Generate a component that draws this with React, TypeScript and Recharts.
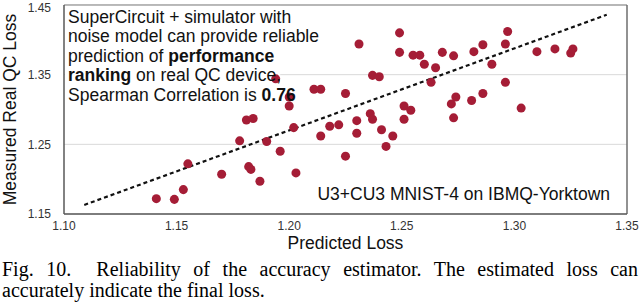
import { ScatterChart, Scatter, XAxis, YAxis, ZAxis, CartesianGrid, ReferenceLine, ReferenceArea } from 'recharts';

// predicted vs measured loss for each sampled sub-network
const predictedLoss = [
  1.231, 1.249, 1.249, 1.255, 1.258, 1.260, 1.265, 1.268, 1.273, 1.282, 1.286, 1.290, 1.296, 1.297, 1.310, 1.318,
  1.325, 1.326, 1.237, 1.240, 1.263, 1.296, 1.214, 1.211, 1.225, 1.274, 1.272, 1.281, 1.286, 1.303, 1.251, 1.254,
  1.236, 1.237, 1.230, 1.251, 1.273, 1.218, 1.222, 1.241, 1.214, 1.230, 1.246, 1.243, 1.225, 1.194, 1.200, 1.200,
  1.181, 1.184, 1.202, 1.178, 1.190, 1.196, 1.155, 1.182, 1.183, 1.170, 1.203, 1.187, 1.153, 1.141, 1.149,
];
const measuredLoss = [
  1.394, 1.410, 1.382, 1.378, 1.378, 1.365, 1.360, 1.382, 1.377, 1.383, 1.393, 1.365, 1.394, 1.412, 1.383, 1.387,
  1.381, 1.387, 1.349, 1.347, 1.339, 1.339, 1.329, 1.329, 1.323, 1.318, 1.308, 1.313, 1.323, 1.302, 1.305, 1.299,
  1.294, 1.286, 1.284, 1.286, 1.288, 1.276, 1.278, 1.271, 1.262, 1.266, 1.262, 1.247, 1.233, 1.344, 1.318, 1.305,
  1.285, 1.287, 1.274, 1.255, 1.254, 1.240, 1.222, 1.218, 1.214, 1.207, 1.209, 1.197, 1.185, 1.172, 1.171,
];

// dashed fit line end points
const trendX = [1.109, 1.341];
const trendY = [1.163, 1.436];

const xTicks = [1.10, 1.15, 1.20, 1.25, 1.30, 1.35];
const yTicks = [1.15, 1.25, 1.35, 1.45];

const points = predictedLoss.map((x, i) => ({ x, y: measuredLoss[i] }));

const SANS = '"Liberation Sans", Arial, sans-serif';
const DOT = '#a51d36';

export default function App() {
  return (
    <div style={{ position: 'absolute', left: 0, top: 0, width: 640, height: 304, background: '#fff', fontFamily: SANS }}>
      <ScatterChart width={640} height={256} margin={{ top: 5, right: 13, left: 0, bottom: 0 }}>
        <CartesianGrid vertical={false} stroke="#d9d9d9" />
        <XAxis
          type="number"
          dataKey="x"
          domain={[1.1, 1.35]}
          ticks={xTicks}
          tickFormatter={(v: number) => v.toFixed(2)}
          height={42}
          tickLine={false}
          tickSize={6}
          tickMargin={1}
          axisLine={{ stroke: '#595959', strokeWidth: 1.5 }}
          tick={{ fontSize: 12, fill: '#333', fontFamily: SANS }}
          label={{ value: 'Predicted Loss', position: 'insideBottom', offset: 7, style: { fontSize: 17.5, fill: '#111', fontFamily: SANS } }}
        />
        <YAxis
          type="number"
          dataKey="y"
          domain={[1.15, 1.45]}
          ticks={yTicks}
          tickFormatter={(v: number) => v.toFixed(2)}
          width={64}
          tickLine={false}
          tickMargin={7}
          axisLine={{ stroke: '#595959', strokeWidth: 1.5 }}
          tick={{ fontSize: 12, fill: '#333', fontFamily: SANS }}
          label={{ value: 'Measured Real QC Loss', angle: -90, position: 'insideLeft', offset: 10, style: { fontSize: 17.5, fill: '#111', fontFamily: SANS, textAnchor: 'middle' } }}
        />
        <ZAxis range={[80, 80]} />
        <ReferenceArea x1={1.1004} x2={1.196} y1={1.303} y2={1.4495} fill="#fff" fillOpacity={1} stroke="none" />
        <ReferenceLine y={1.45} stroke="#a6a6a6" strokeWidth={1.5} />
        <ReferenceLine x={1.35} stroke="#6e6e6e" strokeWidth={1.5} />
        <ReferenceLine
          segment={[{ x: trendX[0], y: trendY[0] }, { x: trendX[1], y: trendY[1] }]}
          stroke="#111"
          strokeWidth={2.2}
          strokeDasharray="4 3"
        />
        <Scatter data={points} fill={DOT} shape="circle" isAnimationActive={false} />
      </ScatterChart>

      {/* note in the top left corner */}
      <div style={{ position: 'absolute', left: 68, top: 7.6, fontSize: 17.5, lineHeight: '19.6px', color: '#111', whiteSpace: 'nowrap' }}>
        SuperCircuit + simulator with<br />
        noise model can provide reliable<br />
        prediction of <b>performance</b><br />
        <b>ranking</b> on real QC device,<br />
        Spearman Correlation is <b>0.76</b>
      </div>

      <div style={{ position: 'absolute', right: 30, top: 185, fontSize: 17.5, lineHeight: '19.6px', color: '#111', whiteSpace: 'nowrap' }}>
        U3+CU3 MNIST-4 on IBMQ-Yorktown
      </div>

      {/* figure caption */}
      <div style={{ position: 'absolute', left: 2, top: 259, width: 636, fontFamily: '"Liberation Serif", "Times New Roman", serif', fontSize: 20, lineHeight: '20.5px', color: '#000' }}>
        <div style={{ textAlign: 'justify', textAlignLast: 'justify', whiteSpace: 'nowrap' }}>
          Fig. 10.&nbsp; Reliability of the accuracy estimator. The estimated loss can
        </div>
        <div>accurately indicate the final loss.</div>
      </div>
    </div>
  );
}
